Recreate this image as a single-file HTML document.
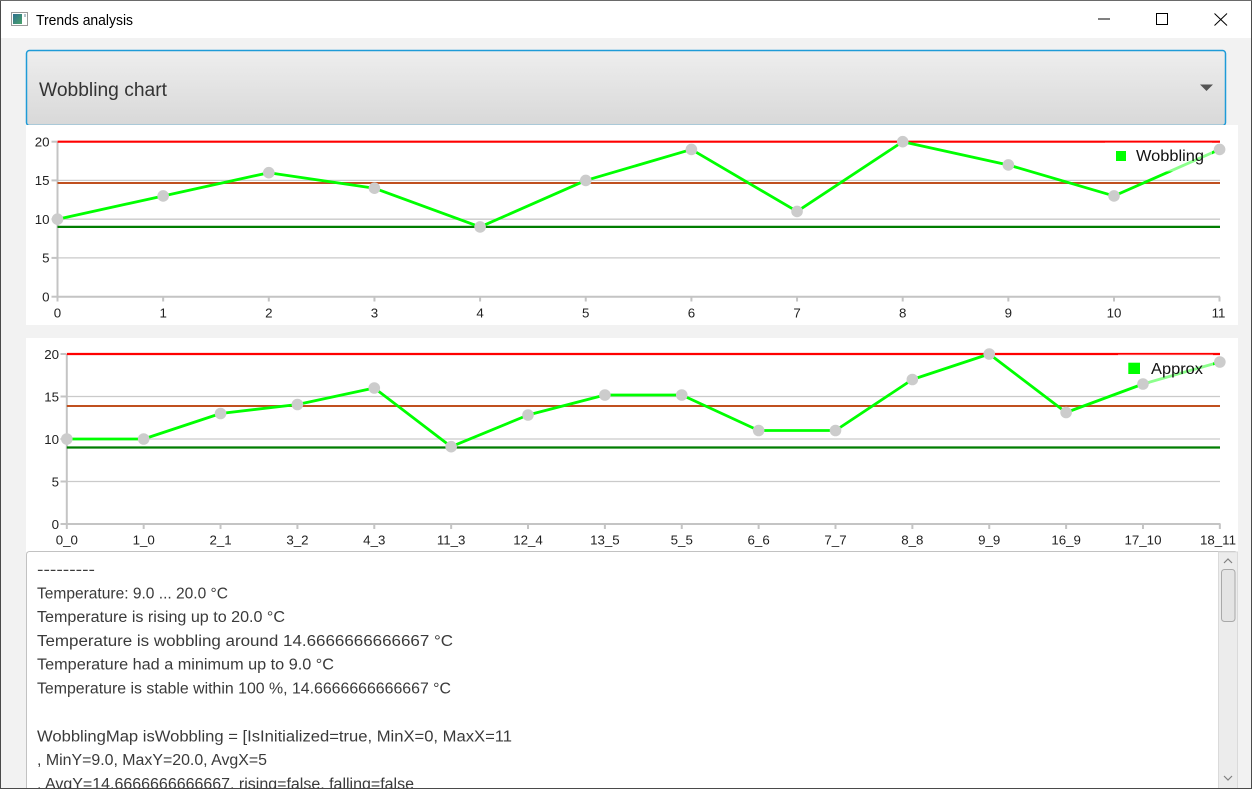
<!DOCTYPE html>
<html><head><meta charset="utf-8">
<style>
html,body{margin:0;padding:0;}
body{width:1252px;height:789px;position:relative;overflow:hidden;background:#f2f2f2;font-family:"Liberation Sans",sans-serif;}
svg text{font-family:"Liberation Sans",sans-serif;}
</style></head>
<body>
<svg width="1252" height="789" viewBox="0 0 1252 789" xmlns="http://www.w3.org/2000/svg" style="position:absolute;left:0;top:0">
<defs>
<linearGradient id="cb" x1="0" y1="0" x2="0" y2="1">
<stop offset="0" stop-color="#eeeeee"/><stop offset="1" stop-color="#d8d8d8"/>
</linearGradient>
<linearGradient id="ic" x1="0" y1="0" x2="1" y2="1">
<stop offset="0" stop-color="#2f6f8f"/><stop offset="1" stop-color="#4aa36a"/>
</linearGradient>
<clipPath id="taclip"><rect x="27" y="552" width="1190" height="236"/></clipPath>
</defs>

<rect x="0" y="0" width="1252" height="789" fill="#f2f2f2"/>
<rect x="0" y="0" width="1252" height="38" fill="#ffffff"/>
<rect x="11.5" y="12.5" width="16" height="13" fill="#ffffff" stroke="#9a9a9a" stroke-width="1"/>
<rect x="13" y="14" width="9" height="10" fill="url(#ic)"/>
<line x1="25" y1="14" x2="25" y2="17" stroke="#6a8a9a" stroke-width="1"/>
<text x="36" y="25" font-size="14.3" fill="#000" textLength="97" lengthAdjust="spacingAndGlyphs">Trends analysis</text>
<line x1="1098" y1="19" x2="1110" y2="19" stroke="#000" stroke-width="1"/>
<rect x="1156.5" y="13.5" width="11" height="11" fill="none" stroke="#000" stroke-width="1"/>
<line x1="1214.5" y1="13.5" x2="1227" y2="25.5" stroke="#000" stroke-width="1"/>
<line x1="1227" y1="13.5" x2="1214.5" y2="25.5" stroke="#000" stroke-width="1"/>

<rect x="26.5" y="50.5" width="1199" height="75" rx="3" fill="url(#cb)" stroke="#1e9bd7" stroke-width="1.5"/>
<text x="39" y="96" font-size="19" fill="#333" textLength="128" lengthAdjust="spacingAndGlyphs">Wobbling chart</text>
<polygon points="1200,84.5 1213,84.5 1206.5,91" fill="#555"/>

<!-- chart 1 -->
<rect x="26" y="125" width="1212" height="200" fill="#ffffff"/>
<g stroke="#cacaca" stroke-width="1.3">
<line x1="57.5" y1="180.4" x2="1220" y2="180.4"/>
<line x1="57.5" y1="219.2" x2="1220" y2="219.2"/>
<line x1="57.5" y1="257.9" x2="1220" y2="257.9"/>
</g>
<g stroke="#c4c4c4" stroke-width="2">
<line x1="57.5" y1="141.7" x2="57.5" y2="297.5"/>
<line x1="57" y1="296.7" x2="1220" y2="296.7"/>
<line x1="51.5" y1="141.7" x2="57" y2="141.7"/>
<line x1="51.5" y1="180.4" x2="57" y2="180.4"/>
<line x1="51.5" y1="219.2" x2="57" y2="219.2"/>
<line x1="51.5" y1="257.9" x2="57" y2="257.9"/>
<line x1="51.5" y1="296.7" x2="57" y2="296.7"/>
<line x1="57.5" y1="296.7" x2="57.5" y2="301.5"/>
<line x1="163.15" y1="296.7" x2="163.15" y2="301.5"/>
<line x1="268.8" y1="296.7" x2="268.8" y2="301.5"/>
<line x1="374.45" y1="296.7" x2="374.45" y2="301.5"/>
<line x1="480.1" y1="296.7" x2="480.1" y2="301.5"/>
<line x1="585.75" y1="296.7" x2="585.75" y2="301.5"/>
<line x1="691.4" y1="296.7" x2="691.4" y2="301.5"/>
<line x1="797.05" y1="296.7" x2="797.05" y2="301.5"/>
<line x1="902.7" y1="296.7" x2="902.7" y2="301.5"/>
<line x1="1008.35" y1="296.7" x2="1008.35" y2="301.5"/>
<line x1="1114" y1="296.7" x2="1114" y2="301.5"/>
<line x1="1219.5" y1="296.7" x2="1219.5" y2="301.5"/>
</g>
<g font-size="13.3" fill="#222" text-anchor="end">
<text x="49.5" y="146.5">20</text>
<text x="49.5" y="185.2">15</text>
<text x="49.5" y="224">10</text>
<text x="49.5" y="262.7">5</text>
<text x="49.5" y="301.5">0</text>
</g>
<g font-size="13.3" fill="#222" text-anchor="middle">
<text x="57.5" y="317.3">0</text>
<text x="163.15" y="317.3">1</text>
<text x="268.8" y="317.3">2</text>
<text x="374.45" y="317.3">3</text>
<text x="480.1" y="317.3">4</text>
<text x="585.75" y="317.3">5</text>
<text x="691.4" y="317.3">6</text>
<text x="797.05" y="317.3">7</text>
<text x="902.7" y="317.3">8</text>
<text x="1008.35" y="317.3">9</text>
<text x="1114" y="317.3">10</text>
<text x="1218.5" y="317.3">11</text>
</g>
<line x1="57.5" y1="141.7" x2="1220" y2="141.7" stroke="#ff0000" stroke-width="2.2"/>
<line x1="57.5" y1="183" x2="1220" y2="183" stroke="#c0501f" stroke-width="2"/>
<line x1="57.5" y1="226.9" x2="1220" y2="226.9" stroke="#007d00" stroke-width="2.2"/>
<polyline fill="none" stroke="#00ff00" stroke-width="2.8" stroke-linejoin="round"
points="57.5,219.2 163.15,195.95 268.8,172.7 374.45,188.2 480.1,226.95 585.75,180.45 691.4,149.45 797.05,211.45 902.7,141.7 1008.35,164.95 1114,195.95 1219.6,149.45"/>
<rect x="1105" y="142.5" width="107" height="29" fill="#ffffff" fill-opacity="0.55"/>
<g fill="#cccccc">
<circle cx="57.5" cy="219.2" r="5.8"/>
<circle cx="163.15" cy="195.95" r="5.8"/>
<circle cx="268.8" cy="172.7" r="5.8"/>
<circle cx="374.45" cy="188.2" r="5.8"/>
<circle cx="480.1" cy="226.95" r="5.8"/>
<circle cx="585.75" cy="180.45" r="5.8"/>
<circle cx="691.4" cy="149.45" r="5.8"/>
<circle cx="797.05" cy="211.45" r="5.8"/>
<circle cx="902.7" cy="141.7" r="5.8"/>
<circle cx="1008.35" cy="164.95" r="5.8"/>
<circle cx="1114" cy="195.95" r="5.8"/>
<circle cx="1219.6" cy="149.45" r="5.8"/>
</g>
<rect x="1116" y="151" width="10" height="10" fill="#00ff00"/>
<text x="1136" y="161" font-size="16" fill="#111" textLength="68" lengthAdjust="spacingAndGlyphs">Wobbling</text>

<!-- chart 2 -->
<rect x="26" y="338" width="1213" height="214" fill="#ffffff"/>
<g stroke="#cacaca" stroke-width="1.3">
<line x1="66.8" y1="396.5" x2="1220" y2="396.5"/>
<line x1="66.8" y1="439" x2="1220" y2="439"/>
<line x1="66.8" y1="481.5" x2="1220" y2="481.5"/>
</g>
<g stroke="#c4c4c4" stroke-width="2">
<line x1="66.8" y1="354" x2="66.8" y2="525"/>
<line x1="66" y1="524" x2="1220.5" y2="524"/>
<line x1="60.5" y1="354" x2="66" y2="354"/>
<line x1="60.5" y1="396.5" x2="66" y2="396.5"/>
<line x1="60.5" y1="439" x2="66" y2="439"/>
<line x1="60.5" y1="481.5" x2="66" y2="481.5"/>
<line x1="60.5" y1="524" x2="66" y2="524"/>
<line x1="66.8" y1="524" x2="66.8" y2="529"/>
<line x1="143.67" y1="524" x2="143.67" y2="529"/>
<line x1="220.54" y1="524" x2="220.54" y2="529"/>
<line x1="297.41" y1="524" x2="297.41" y2="529"/>
<line x1="374.28" y1="524" x2="374.28" y2="529"/>
<line x1="451.15" y1="524" x2="451.15" y2="529"/>
<line x1="528.02" y1="524" x2="528.02" y2="529"/>
<line x1="604.89" y1="524" x2="604.89" y2="529"/>
<line x1="681.76" y1="524" x2="681.76" y2="529"/>
<line x1="758.63" y1="524" x2="758.63" y2="529"/>
<line x1="835.5" y1="524" x2="835.5" y2="529"/>
<line x1="912.37" y1="524" x2="912.37" y2="529"/>
<line x1="989.24" y1="524" x2="989.24" y2="529"/>
<line x1="1066.11" y1="524" x2="1066.11" y2="529"/>
<line x1="1142.98" y1="524" x2="1142.98" y2="529"/>
<line x1="1219.85" y1="524" x2="1219.85" y2="529"/>
</g>
<g font-size="13.3" fill="#222" text-anchor="end">
<text x="59" y="358.8">20</text>
<text x="59" y="401.3">15</text>
<text x="59" y="443.8">10</text>
<text x="59" y="486.3">5</text>
<text x="59" y="528.8">0</text>
</g>
<g font-size="13.3" fill="#222" text-anchor="middle">
<text x="66.8" y="544.5">0_0</text>
<text x="143.67" y="544.5">1_0</text>
<text x="220.54" y="544.5">2_1</text>
<text x="297.41" y="544.5">3_2</text>
<text x="374.28" y="544.5">4_3</text>
<text x="451.15" y="544.5">11_3</text>
<text x="528.02" y="544.5">12_4</text>
<text x="604.89" y="544.5">13_5</text>
<text x="681.76" y="544.5">5_5</text>
<text x="758.63" y="544.5">6_6</text>
<text x="835.5" y="544.5">7_7</text>
<text x="912.37" y="544.5">8_8</text>
<text x="989.24" y="544.5">9_9</text>
<text x="1066.11" y="544.5">16_9</text>
<text x="1142.98" y="544.5">17_10</text>
<text x="1218" y="544.5">18_11</text>
</g>
<line x1="66.8" y1="354" x2="1220" y2="354" stroke="#ff0000" stroke-width="2.2"/>
<line x1="66.8" y1="406" x2="1220" y2="406" stroke="#c0501f" stroke-width="2"/>
<line x1="66.8" y1="447.5" x2="1220" y2="447.5" stroke="#007d00" stroke-width="2.2"/>
<polyline fill="none" stroke="#00ff00" stroke-width="2.8" stroke-linejoin="round"
points="66.8,439 143.67,439 220.54,413.5 297.41,404.5 374.28,388 451.15,446.7 528.02,415 604.89,395 681.76,395 758.63,430.5 835.5,430.5 912.37,379.5 989.24,354 1066.11,412.5 1142.98,384 1219.85,362"/>
<rect x="1118" y="354.5" width="95" height="29" fill="#ffffff" fill-opacity="0.55"/>
<g fill="#cccccc">
<circle cx="66.8" cy="439" r="5.8"/>
<circle cx="143.67" cy="439" r="5.8"/>
<circle cx="220.54" cy="413.5" r="5.8"/>
<circle cx="297.41" cy="404.5" r="5.8"/>
<circle cx="374.28" cy="388" r="5.8"/>
<circle cx="451.15" cy="446.7" r="5.8"/>
<circle cx="528.02" cy="415" r="5.8"/>
<circle cx="604.89" cy="395" r="5.8"/>
<circle cx="681.76" cy="395" r="5.8"/>
<circle cx="758.63" cy="430.5" r="5.8"/>
<circle cx="835.5" cy="430.5" r="5.8"/>
<circle cx="912.37" cy="379.5" r="5.8"/>
<circle cx="989.24" cy="354" r="5.8"/>
<circle cx="1066.11" cy="412.5" r="5.8"/>
<circle cx="1142.98" cy="384" r="5.8"/>
<circle cx="1219.85" cy="362" r="5.8"/>
</g>
<rect x="1128.3" y="362.7" width="11.7" height="11.3" fill="#00ff00"/>
<text x="1151" y="374" font-size="16" fill="#111" textLength="52" lengthAdjust="spacingAndGlyphs">Approx</text>

<!-- text area -->
<rect x="26.5" y="551.5" width="1211" height="250" rx="3" fill="#ffffff" stroke="#c2c2c2" stroke-width="1"/>
<g clip-path="url(#taclip)" font-size="15.4" fill="#3a3a3a">
<text x="37" y="574.5" textLength="58" lengthAdjust="spacingAndGlyphs">---------</text>
<text x="37" y="598.3" textLength="191" lengthAdjust="spacingAndGlyphs">Temperature: 9.0 ... 20.0 °C</text>
<text x="37" y="622.1" textLength="248" lengthAdjust="spacingAndGlyphs">Temperature is rising up to 20.0 °C</text>
<text x="37" y="645.9" textLength="416" lengthAdjust="spacingAndGlyphs">Temperature is wobbling around 14.6666666666667 °C</text>
<text x="37" y="669.7" textLength="297" lengthAdjust="spacingAndGlyphs">Temperature had a minimum up to 9.0 °C</text>
<text x="37" y="693.5" textLength="414" lengthAdjust="spacingAndGlyphs">Temperature is stable within 100 %, 14.6666666666667 °C</text>
<text x="37" y="741.3" textLength="475" lengthAdjust="spacingAndGlyphs">WobblingMap isWobbling = [IsInitialized=true, MinX=0, MaxX=11</text>
<text x="37" y="765.1" textLength="230" lengthAdjust="spacingAndGlyphs">, MinY=9.0, MaxY=20.0, AvgX=5</text>
<text x="37" y="788.9" textLength="377" lengthAdjust="spacingAndGlyphs">, AvgY=14.6666666666667, rising=false, falling=false</text>
</g>
<rect x="1218.5" y="552" width="19" height="240" fill="#ececec" stroke="#dadada" stroke-width="1"/>
<polyline points="1224,563 1228,559 1232,563" fill="none" stroke="#808080" stroke-width="1.2"/>
<rect x="1221.5" y="569.5" width="13.5" height="52" rx="3" fill="#e4e4e4" stroke="#a9a9a9" stroke-width="1"/>
<polyline points="1224,776 1228,780 1232,776" fill="none" stroke="#808080" stroke-width="1.2"/>

<rect x="1238" y="38" width="12" height="751" fill="#f2f2f2"/>
<line x1="0.5" y1="0" x2="0.5" y2="789" stroke="#4a4a4a" stroke-width="1"/>
<line x1="1251.5" y1="0" x2="1251.5" y2="789" stroke="#4a4a4a" stroke-width="1"/>
<line x1="0" y1="0.5" x2="1252" y2="0.5" stroke="#6a6a6a" stroke-width="1"/>
<line x1="0" y1="788.5" x2="1252" y2="788.5" stroke="#4a4a4a" stroke-width="1"/>
</svg>
</body></html>
